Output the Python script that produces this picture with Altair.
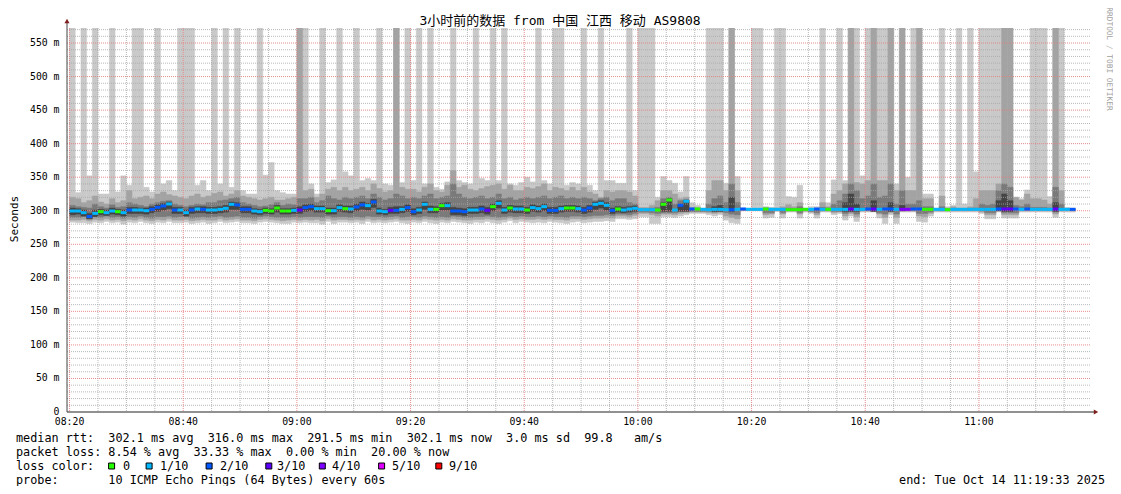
import altair as alt
import pandas as pd

# ---------------- data (one column per minute, index 0 = 08:20) ----------------
# 600 = ping above the top of the chart (clipped)
hi1 = [600,327,600,352,600,325,325,600,328,352,
       338,600,600,335,328,600,340,345,330,600,
       600,600,338,345,330,600,340,600,335,600,
       330,325,325,600,353,372,330,327,325,325,
       600,600,340,325,600,342,346,600,358,352,
       600,345,348,345,600,340,338,600,342,600,
       345,600,340,600,335,332,343,600,345,342,
       340,600,348,345,600,345,600,340,338,342,
       350,343,600,345,340,600,600,338,342,340,
       600,338,330,600,345,345,341,341,600,330,
       600,600,600,320,351,345,341,328,351,312,
       308,304,600,600,600,341,600,351,304,304,
       600,600,306,305,600,600,321,320,338,304,
       306,306,600,312,346,600,345,600,600,352,
       600,600,600,600,600,340,600,350,600,600,
       325,325,304,600,306,308,600,310,600,358,
       600,600,600,600,600,600,320,318,331,600,
       600,600,321,600,600,305,304]
hi2 = [320,318,312,315,322,313,310,318,312,315,
       330,318,320,322,318,325,328,324,322,320,
       318,322,325,320,322,326,328,322,325,330,
       322,320,318,316,318,320,316,316,318,320,
       600,330,332,320,325,332,335,330,335,330,
       332,335,330,340,333,328,330,600,335,332,
       332,328,335,340,330,328,338,360,335,338,
       332,330,333,336,338,340,332,338,330,330,
       335,333,336,340,330,335,333,330,335,330,
       335,328,325,320,330,328,330,330,328,322,
       305,305,308,315,330,330,325,318,320,305,
       305,303,330,345,345,330,600,330,303,303,
       303,303,305,304,304,306,309,306,312,303,
       303,303,312,306,325,330,340,600,342,340,
       345,600,345,345,600,330,600,330,330,600,
       318,318,303,322,304,306,304,304,306,318,
       330,330,330,340,600,600,320,316,325,318,
       318,316,310,600,330,303,303]
hi3 = [308,306,305,304,310,306,304,309,305,306,
       312,310,308,306,310,312,314,315,310,308,
       306,308,310,309,312,312,315,316,318,320,
       312,310,308,306,307,309,312,308,310,309,
       318,318,320,312,315,322,318,316,320,318,
       320,322,318,325,320,316,318,325,322,318,
       320,318,322,325,318,320,322,340,325,320,
       318,320,322,318,320,325,318,320,316,318,
       320,318,320,322,318,320,322,318,320,318,
       320,318,315,318,320,315,318,318,312,310,
       303,303,304,305,318,320,310,315,316,303,
       303,302,310,318,322,312,340,312,302,302,
       302,302,303,303,303,303,304,303,306,302,
       302,302,305,304,310,315,325,340,330,318,
       322,340,320,322,340,310,330,310,310,315,
       306,306,302,306,303,303,303,303,303,304,
       310,308,310,330,340,335,308,306,310,305,
       305,305,304,335,310,302,302]
hi4 = [304,303,301,296,301,302,301,304,302,301,
       305,305,304,304,306,309,311,313,305,305,
       301,305,306,306,305,305,306,308,313,312,
       306,306,303,302,304,303,308,303,303,304,
       306,309,310,307,307,304,304,309,307,307,
       310,313,311,317,304,302,305,306,306,309,
       303,305,313,307,306,311,312,305,304,303,
       305,305,307,305,310,315,305,308,307,307,
       305,309,307,310,305,305,307,308,308,307,
       305,308,313,315,312,304,306,305,306,307,
       302,302,302,302,312,318,302,310,316,302,
       302,302,302,306,308,302,320,302,302,302,
       302,302,302,302,302,302,302,302,302,302,
       302,302,302,302,302,302,312,325,310,302,
       302,315,302,302,312,302,308,302,302,302,
       302,302,302,302,302,302,302,302,302,302,
       302,302,302,315,325,315,302,302,302,302,
       302,302,302,312,302,302,302]
lo4 = [294,295,292,288,291,294,293,295,294,292,
       296,296,296,295,297,299,301,303,296,296,
       292,296,297,297,296,296,297,298,302,302,
       297,297,295,294,296,295,298,295,295,296,
       296,299,300,298,298,295,295,299,298,297,
       300,302,301,305,295,294,296,296,297,299,
       294,296,302,297,297,301,301,294,294,293,
       296,296,297,295,300,304,296,298,297,297,
       296,299,298,300,296,296,298,299,299,298,
       296,298,302,304,301,296,298,297,298,299,
       302,302,302,302,299,299,302,299,299,302,
       302,302,302,299,299,302,299,302,302,302,
       302,302,302,302,302,302,302,302,302,302,
       302,302,302,302,302,302,299,299,299,302,
       302,299,302,302,299,302,300,302,302,302,
       302,302,302,302,302,302,302,302,302,302,
       302,302,302,300,299,299,302,302,302,302,
       302,302,302,299,302,302,302]
lo3 = [290,290,291,288,291,290,292,290,291,289,
       291,290,292,290,289,291,291,292,290,291,
       291,289,290,291,290,291,292,290,291,292,
       290,290,289,291,292,291,290,290,290,291,
       290,291,291,291,290,292,290,291,291,290,
       291,290,292,291,291,290,291,292,290,291,
       291,290,292,291,290,291,290,292,291,290,
       290,291,291,292,291,290,291,292,291,292,
       291,291,292,291,292,291,291,290,292,292,
       291,292,293,293,294,293,295,295,294,296,
       298,298,297,296,297,297,297,299,299,299,
       299,299,299,298,299,297,295,294,301,301,
       301,301,297,297,301,297,300,300,297,300,
       299,297,300,300,299,299,296,298,295,300,
       300,299,297,295,299,295,300,300,300,296,
       296,298,301,300,301,301,301,301,301,301,
       300,297,297,300,297,297,297,301,301,301,
       301,301,301,298,301,301,301]
lo2 = [286,286,287,285,287,286,288,286,287,285,
       287,286,288,286,285,287,286,288,286,286,
       287,285,286,287,286,286,288,286,287,288,
       286,286,285,287,288,287,286,285,286,287,
       286,287,286,287,285,288,286,287,287,286,
       287,286,288,286,287,286,287,288,286,286,
       287,286,288,287,286,287,286,288,287,286,
       286,287,287,288,287,286,287,289,287,288,
       287,287,288,287,288,287,287,286,288,288,
       287,288,289,289,290,289,292,292,291,293,
       296,296,294,292,295,295,294,296,297,298,
       298,298,297,296,297,292,290,288,301,301,
       301,301,294,295,300,295,300,300,295,300,
       298,294,300,300,297,298,292,296,291,300,
       300,300,295,290,297,290,300,300,300,292,
       291,296,300,300,300,300,300,300,300,300,
       298,294,294,300,294,294,294,300,300,300,
       300,300,300,295,300,300,300]
lo1 = [283,282,282,281,283,282,284,282,283,280,
       283,282,284,282,281,283,282,284,282,282,
       283,281,282,283,281,282,284,282,283,284,
       282,282,281,283,284,283,282,281,281,283,
       282,283,282,282,280,284,281,283,283,282,
       283,281,284,282,283,282,283,284,282,281,
       283,282,284,282,281,283,282,284,283,282,
       281,283,282,284,282,281,283,285,282,284,
       283,282,283,282,284,283,282,281,283,284,
       282,283,284,284,285,284,288,288,287,288,
       291,291,281,281,291,291,290,292,294,296,
       296,296,294,292,294,286,282,281,300,300,
       300,300,289,290,299,289,298,298,289,298,
       296,289,298,298,294,296,286,292,284,298,
       298,298,289,281,294,281,298,298,298,284,
       283,292,298,298,298,298,298,298,298,298,
       296,288,288,298,289,289,289,298,298,298,
       298,298,298,290,298,298,298]
med = [299.6,299.6,297.1,291.5,296.1,298.6,297.1,299.6,298.6,297.1,
       301.1,301.1,301.1,300.1,302.1,305.1,307.1,310.1,301.1,301.1,
       297.1,301.1,302.6,302.1,301.1,301.1,302.1,303.6,309.6,308.6,
       302.1,302.1,299.6,298.6,300.6,299.6,304.1,299.6,299.6,300.6,
       301.1,304.6,306.1,303.1,303.1,300.1,300.1,304.6,303.1,302.6,
       305.6,308.6,307.6,313.1,299.6,298.6,300.6,300.6,302.1,304.6,
       298.6,301.1,309.6,302.1,302.1,307.6,307.6,299.6,299.6,298.6,
       301.1,301.1,302.6,300.6,306.1,311.1,301.1,304.1,302.6,302.6,
       301.1,304.6,303.1,306.1,300.6,300.6,303.1,304.1,304.1,303.1,
       301.1,304.1,309.6,311.1,308.1,300.6,302.6,301.1,302.6,303.6,
       301.6,301.6,301.6,301.1,309.6,316.0,301.1,308.1,314.1,302.6,
       302.6,302.1,301.6,302.1,302.1,301.6,301.6,302.1,302.6,302.1,
       302.1,302.1,302.6,302.1,302.1,302.1,301.6,301.6,301.6,302.1,
       302.1,302.6,302.1,302.1,302.1,302.1,302.1,302.6,302.1,302.1,
       302.6,302.6,302.1,302.6,302.6,302.1,302.1,302.1,302.6,302.6,
       302.1,302.1,302.1,302.1,301.6,302.1,302.1,302.1,302.1,302.1,
       302.1,302.1,302.1,302.6,302.6,302.6,302.6,302.1,302.6,302.1,
       302.1,302.1,302.1,302.6,302.1,302.1,302.1]
loss = [1,1,1,2,1,0,1,1,0,1,
        2,1,1,1,2,2,2,1,2,1,
        1,2,1,2,1,1,1,1,1,2,
        2,2,1,1,0,0,0,0,0,1,
        3,2,2,1,1,0,1,1,0,1,
        2,2,1,2,1,1,3,2,1,2,
        2,1,1,1,0,0,1,2,2,2,
        1,1,2,3,0,1,1,0,1,1,
        0,1,1,1,2,2,1,0,0,1,
        2,2,1,1,1,2,0,1,1,1,
        1,1,1,0,0,0,1,2,1,2,
        0,1,1,1,1,1,2,1,2,1,
        1,1,0,1,1,1,0,0,0,0,
        1,2,1,0,1,1,1,3,1,1,
        2,3,1,2,2,1,4,4,2,2,
        0,0,1,1,0,1,1,1,1,1,
        1,1,1,2,3,3,2,1,2,1,
        1,1,1,3,1,1,2]

loss_keys = [0, 1, 2, 3, 4, 5, 9]
loss_labels = ["0", "1/10", "2/10", "3/10", "4/10", "5/10", "9/10"]
loss_colors = ["#26ff00", "#00b8ff", "#0059ff", "#5e00ff", "#7e00ff", "#dd00ff", "#ff0000"]

y_ticks = [0, 50, 100, 150, 200, 250, 300, 350, 400, 450, 500, 550]
y_labels = ["0", "50 m", "100 m", "150 m", "200 m", "250 m", "300 m", "350 m",
            "400 m", "450 m", "500 m", "550 m"]
x_ticks = [0, 20, 40, 60, 80, 100, 120, 140, 160]
x_labels = ["08:20", "08:40", "09:00", "09:20", "09:40", "10:00", "10:20", "10:40", "11:00"]
x_minor = [5, 10, 15, 25, 30, 35, 45, 50, 55, 65, 70, 75, 85, 90, 95, 105, 110, 115,
           125, 130, 135, 145, 150, 155, 165, 170, 175]
y_minor = [v for v in range(10, 580, 10) if v % 50 != 0]
y_major = [50, 100, 150, 200, 250, 300, 350, 400, 450, 500, 550]

NB = "\u00a0"
def keep_spaces(s):
    return s.replace(" ", NB)

title = "3小时前的数据 from 中国 江西 移动 AS9808"
row1 = "median rtt:  302.1 ms avg  316.0 ms max  291.5 ms min  302.1 ms now  3.0 ms sd  99.8   am/s"
row2 = "packet loss: 8.54 % avg  33.33 % max  0.00 % min  20.00 % now"
row3 = "loss color:"
row4 = "probe:       10 ICMP Echo Pings (64 Bytes) every 60s"
end_text = "end: Tue Oct 14 11:19:33 2025"
side_text = "RRDTOOL / TOBI OETIKER"

# ---------------- layout ----------------
W, H = 1023, 384
FONT = "DejaVu Sans Mono, Noto Sans CJK SC"
xs = alt.Scale(domain=[-0.4517, 179.5483], nice=False, zero=False)
ys = alt.Scale(domain=[0, 572.4], nice=False, zero=False)
one = pd.DataFrame({"a": [0]})

layer_cols = ["#c9c9c9", "#a3a3a3", "#7a7a7a", "#444444"]
charts = []
for (lo, hi), col in zip([(lo1, hi1), (lo2, hi2), (lo3, hi3), (lo4, hi4)], layer_cols):
    rows = [{"t": i, "t2": i + 1, "lo": lo[i], "hi": hi[i]}
            for i in range(len(med)) if hi[i] > lo[i]]
    df = pd.DataFrame(rows)
    charts.append(
        alt.Chart(df).mark_rect(clip=True, color=col, stroke=col, strokeWidth=0.5).encode(
            x=alt.X("t:Q", scale=xs, axis=None), x2="t2:Q",
            y=alt.Y("lo:Q", scale=ys, axis=None), y2="hi:Q")
    )

# grid (drawn over the smoke, as rrdtool does)
charts.append(alt.Chart(pd.DataFrame({"m": x_minor})).mark_rule(
    color="#a8a8a8", strokeDash=[1, 1], strokeWidth=1, opacity=0.8).encode(
    x=alt.X("m:Q", scale=xs, axis=None)))
charts.append(alt.Chart(pd.DataFrame({"v": y_minor})).mark_rule(
    color="#a8a8a8", strokeDash=[1, 1], strokeWidth=1, opacity=0.8).encode(
    y=alt.Y("v:Q", scale=ys, axis=None)))
charts.append(alt.Chart(pd.DataFrame({"m": x_ticks})).mark_rule(
    color="#e88080", strokeDash=[1, 1], strokeWidth=1, opacity=0.9).encode(
    x=alt.X("m:Q", scale=xs, axis=None)))
charts.append(alt.Chart(pd.DataFrame({"v": y_major})).mark_rule(
    color="#e88080", strokeDash=[1, 1], strokeWidth=1, opacity=0.9).encode(
    y=alt.Y("v:Q", scale=ys, axis=None)))

# median line coloured by loss
mdf = pd.DataFrame({"t": list(range(len(med))), "t2": [i + 1 for i in range(len(med))],
                    "med": med, "loss": loss})
charts.append(alt.Chart(mdf).mark_rule(strokeWidth=3).encode(
    x=alt.X("t:Q", scale=xs, axis=None), x2="t2:Q",
    y=alt.Y("med:Q", scale=ys, axis=None),
    color=alt.Color("loss:O", scale=alt.Scale(domain=loss_keys, range=loss_colors), legend=None)))

# axes
charts.append(alt.Chart(one).mark_rule(color="#222222", strokeWidth=1).encode(
    x=alt.value(0), x2=alt.value(1028), y=alt.value(H)))
charts.append(alt.Chart(one).mark_rule(color="#444444", strokeWidth=1).encode(
    x=alt.value(0), y=alt.value(H), y2=alt.value(-6)))
charts.append(alt.Chart(one).mark_point(shape="triangle-up", filled=True, size=26,
                                        color="#7f1f1f", opacity=1).encode(
    x=alt.value(0), y=alt.value(-7)))
charts.append(alt.Chart(one).mark_point(shape="triangle-right", filled=True, size=26,
                                        color="#7f1f1f", opacity=1).encode(
    x=alt.value(1029), y=alt.value(H)))

# tick labels
charts.append(alt.Chart(pd.DataFrame({"v": y_ticks, "lab": [keep_spaces(s) for s in y_labels]})).mark_text(
    font=FONT, fontSize=9.8, align="right", baseline="middle", color="black").encode(
    y=alt.Y("v:Q", scale=ys, axis=None), x=alt.value(-7.5), text="lab:N"))
charts.append(alt.Chart(pd.DataFrame({"m": x_ticks, "lab": x_labels})).mark_text(
    font=FONT, fontSize=9.8, align="center", baseline="middle", color="black").encode(
    x=alt.X("m:Q", scale=xs, axis=None), y=alt.value(394), text="lab:N"))

# titles and legend texts
def txt(s, x, y, size=11.8, align="left", angle=0, color="black"):
    return alt.Chart(one).mark_text(text=keep_spaces(s), font=FONT, fontSize=size, align=align,
                                    baseline="middle", angle=angle, color=color).encode(
        x=alt.value(x), y=alt.value(y))

charts.append(txt(title, 493, -7, size=13, align="center"))
charts.append(txt("Seconds", -52, 191, size=11, align="center", angle=270))
charts.append(txt(side_text, 1042, 31, size=7.8, align="center", angle=90, color="#a0a0a0"))
charts.append(txt(row1, -51, 410))
charts.append(txt(row2, -51, 424))
charts.append(txt(row3, -51, 438))
charts.append(txt(row4, -51, 452))
charts.append(txt(end_text, 1038, 452, align="right"))

box_x = [111.6, 149.1, 209.1, 268.8, 322.3, 381.6, 438.8]
lab_x = [123, 160, 220, 277, 332, 392, 449]
for bx, lx, lab, col in zip(box_x, lab_x, loss_labels, loss_colors):
    charts.append(alt.Chart(one).mark_point(shape="square", filled=True, size=36,
                                            color=col, stroke="black", strokeWidth=1,
                                            opacity=1).encode(
        x=alt.value(bx - 67), y=alt.value(438)))
    charts.append(txt(lab, lx - 67, 438))

chart = alt.layer(*charts).properties(
    width=W, height=H,
    padding={"left": 59, "top": 20, "right": 23, "bottom": 74},
    autosize=alt.AutoSizeParams(type="none"),
    background="white",
).configure_view(stroke=None)

chart.save("out.html", embed_options={"renderer": "svg", "actions": False})
